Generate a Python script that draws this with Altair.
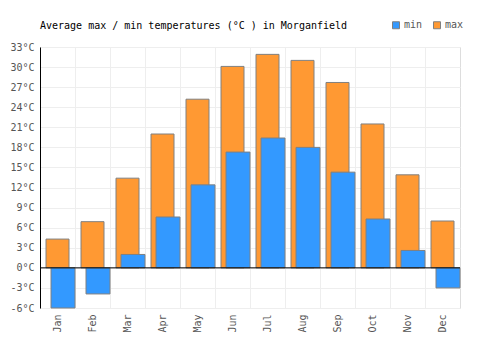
import altair as alt
import pandas as pd

months = ["Jan", "Feb", "Mar", "Apr", "May", "Jun", "Jul", "Aug", "Sep", "Oct", "Nov", "Dec"]
min_vals = [-6.0, -3.9, 2.0, 7.6, 12.4, 17.3, 19.4, 18.0, 14.3, 7.3, 2.6, -3.0]
max_vals = [4.3, 6.9, 13.4, 20.0, 25.2, 30.1, 31.9, 31.0, 27.7, 21.5, 13.9, 7.0]
y_ticks = list(range(-6, 34, 3))

df = pd.DataFrame(
    [{"month": m, "series": "min", "value": v} for m, v in zip(months, min_vals)]
    + [{"month": m, "series": "max", "value": v} for m, v in zip(months, max_vals)]
)

FONT = "DejaVu Sans Mono"

color = alt.Color(
    "series:N",
    scale=alt.Scale(domain=["min", "max"], range=["#3399ff", "#ff9933"]),
    legend=alt.Legend(
        title=None, orient="none", legendX=351, legendY=-27, direction="horizontal",
        symbolType="square", symbolSize=49, symbolStrokeColor="#808080", symbolStrokeWidth=1,
        labelFont=FONT, labelFontSize=10, labelColor="#555555", columnPadding=8,
        labelOffset=3,
    ),
)

x = alt.X(
    "month:N", sort=months, title=None,
    scale=alt.Scale(paddingInner=0, paddingOuter=0),
    axis=alt.Axis(
        labelAngle=270, labelAlign="right", labelBaseline="middle", labelPadding=6,
        labelFont=FONT, labelFontSize=10, labelColor="#555555",
        ticks=False, domain=False, grid=True, gridColor="#eeeeee", bandPosition=0,
    ),
)
yscale = alt.Scale(domain=[-6, 33], nice=False, zero=False)
yaxis = alt.Axis(
    values=y_ticks, labelExpr="datum.value + '°C'", labelFont=FONT, labelFontSize=10,
    labelColor="#555555", ticks=False, labelPadding=6, domain=True, domainColor="#000000",
    grid=True, gridColor="#eeeeee", labelFlush=False, labelOverlap=False,
)
y = alt.Y("value:Q", title=None, scale=yscale, axis=yaxis)

base = alt.Chart(df)
max_bars = base.transform_filter(alt.datum.series == "max").mark_bar(
    size=23, stroke="#808080", strokeWidth=1
).encode(x=x, y=y, color=color)
min_bars = base.transform_filter(alt.datum.series == "min").mark_bar(
    size=24, xOffset=5.5, stroke="#808080", strokeWidth=1
).encode(x=x, y=y, color=color)
zero = alt.Chart(pd.DataFrame({"v": [0]})).mark_rule(color="#000000", strokeWidth=1).encode(
    y=alt.Y("v:Q", title=None, scale=yscale, axis=yaxis)
)

chart = alt.layer(max_bars, min_bars, zero).properties(
    width=420, height=261,
    padding={"left": 40, "top": 47, "right": 40, "bottom": 42},
    autosize=alt.AutoSizeParams(type="none"),
    title=alt.TitleParams(
        "Average max / min temperatures (°C ) in Morganfield",
        anchor="start", font=FONT, fontSize=10, fontWeight="normal", color="#000000",
        offset=-11, frame="group",
    ),
).configure_view(stroke="#eeeeee").configure(background="#ffffff").configure_axisY(
    labelOverlap=False
)

chart.save("out.html", embed_options={"renderer": "svg", "actions": False})
